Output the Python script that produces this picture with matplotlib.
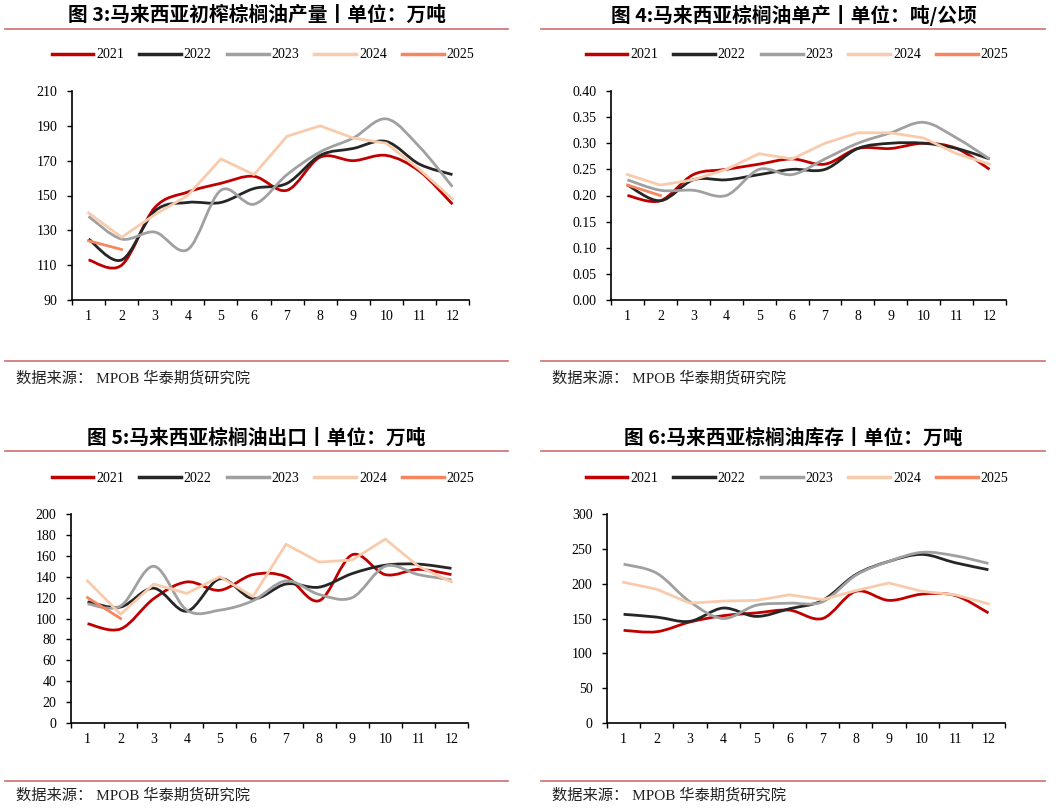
import numpy as np
import matplotlib
matplotlib.use('Agg')
import matplotlib.pyplot as plt
from matplotlib.path import Path
from matplotlib.patches import PathPatch
from matplotlib.lines import Line2D

plt.rcParams['font.family'] = ['Liberation Serif', 'Noto Sans CJK SC']

months = list(range(1, 13))
years = ['2021', '2022', '2023', '2024', '2025']
colors = ['#C00000', '#262626', '#A0A0A0', '#F8CBAD', '#F4875F']
smooth = [True, True, True, False, False]

# 图3 初榨棕榈油产量 (万吨)
prod_2021 = [113, 110, 143, 152, 157, 161, 153, 172, 170, 173, 164, 145]
prod_2022 = [125, 113, 141, 146, 146, 154, 157, 173, 177, 181, 168, 162]
prod_2023 = [138, 125, 129, 119, 153, 145, 162, 175, 183, 194, 178, 155]
prod_2024 = [140, 126, 139, 150, 171, 162, 184, 190, 183, 180, 165, 148]
prod_2025 = [124, 119]

# 图4 单产 (吨/公顷)
yield_2021 = [0.20, 0.19, 0.24, 0.25, 0.26, 0.27, 0.26, 0.29, 0.29, 0.30, 0.29, 0.25]
yield_2022 = [0.22, 0.19, 0.23, 0.23, 0.24, 0.25, 0.25, 0.29, 0.30, 0.30, 0.29, 0.27]
yield_2023 = [0.23, 0.21, 0.21, 0.20, 0.25, 0.24, 0.27, 0.30, 0.32, 0.34, 0.31, 0.27]
yield_2024 = [0.24, 0.22, 0.23, 0.25, 0.28, 0.27, 0.30, 0.32, 0.32, 0.31, 0.28, 0.26]
yield_2025 = [0.22, 0.20]

# 图5 出口 (万吨)
exp_2021 = [95, 90, 119, 135, 127, 142, 140, 117, 161, 142, 147, 142]
exp_2022 = [116, 111, 129, 107, 138, 119, 133, 130, 143, 151, 152, 148]
exp_2023 = [114, 112, 150, 108, 108, 117, 136, 123, 120, 150, 142, 137]
exp_2024 = [136, 104, 133, 124, 140, 121, 171, 154, 156, 176, 150, 135]
exp_2025 = [120, 100]

# 图6 库存 (万吨)
stock_2021 = [133, 131, 145, 154, 158, 162, 150, 189, 176, 185, 183, 158]
stock_2022 = [156, 152, 146, 165, 153, 164, 176, 213, 232, 242, 230, 220]
stock_2023 = [228, 215, 174, 150, 169, 172, 174, 212, 232, 245, 240, 229]
stock_2024 = [202, 192, 172, 175, 176, 184, 177, 190, 201, 189, 184, 171]
stock_2025 = []

panels = [
    dict(title='图 3:马来西亚初榨棕榈油产量丨单位：万吨',
         data=[prod_2021, prod_2022, prod_2023, prod_2024, prod_2025],
         ylim=(90, 210), step=20, fmt='{:.0f}'),
    dict(title='图 4:马来西亚棕榈油单产丨单位：吨/公顷',
         data=[yield_2021, yield_2022, yield_2023, yield_2024, yield_2025],
         ylim=(0, 0.40), step=0.05, fmt='{:.2f}'),
    dict(title='图 5:马来西亚棕榈油出口丨单位：万吨',
         data=[exp_2021, exp_2022, exp_2023, exp_2024, exp_2025],
         ylim=(0, 200), step=20, fmt='{:.0f}'),
    dict(title='图 6:马来西亚棕榈油库存丨单位：万吨',
         data=[stock_2021, stock_2022, stock_2023, stock_2024, stock_2025],
         ylim=(0, 300), step=50, fmt='{:.0f}'),
]


def smooth_path(x, y):
    # Excel-style smoothed line: cubic bezier through every point
    pts = np.column_stack([x, y]).astype(float)
    n = len(pts)
    verts = [pts[0]]
    codes = [Path.MOVETO]
    for i in range(n - 1):
        p0 = pts[i - 1] if i > 0 else pts[i]
        p1 = pts[i]
        p2 = pts[i + 1]
        p3 = pts[i + 2] if i + 2 < n else pts[i + 1]
        verts += [p1 + (p2 - p0) / 6, p2 - (p3 - p1) / 6, p2]
        codes += [Path.CURVE4] * 3
    return Path(verts, codes)


W, H = 1057, 808
fig = plt.figure(figsize=(W / 100, H / 100), dpi=100)

# pixel boxes: left, right, top, bottom of plot area
boxes = [(72, 469, 91, 300), (611, 1006, 91, 300),
         (71, 468, 514, 723), (607, 1005, 514, 723)]
title_pos = [(257, 15), (794, 15), (256, 438), (793, 438)]
rule_x = [(5, 508), (541, 1045), (5, 508), (541, 1045)]
rule_top = [29, 29, 451, 451]
rule_bot = [361, 361, 781, 781]
src_pos = [(16, 378), (552, 378), (16, 795), (552, 795)]
leg_pos = [(263, 55), (797, 55), (263, 478), (797, 478)]

rule_color = '#CD6E6E'

for k, p in enumerate(panels):
    l, r, t, b = boxes[k]
    ax = fig.add_axes([l / W, 1 - b / H, (r - l) / W, (b - t) / H])
    for s, vals in enumerate(p['data']):
        if len(vals) == 0:
            continue
        xs = months[:len(vals)]
        if smooth[s]:
            ax.add_patch(PathPatch(smooth_path(xs, vals), facecolor='none',
                                   edgecolor=colors[s], lw=2, zorder=2 + s))
        else:
            ax.plot(xs, vals, color=colors[s], lw=2, zorder=2 + s)
    ax.set_xlim(0.5, 12.5)
    ax.set_ylim(*p['ylim'])
    yt = np.arange(p['ylim'][0], p['ylim'][1] + p['step'] / 2, p['step'])
    ax.set_yticks(yt)
    ax.set_yticklabels([p['fmt'].format(v) for v in yt])
    ax.set_xticks(months)
    ax.set_xticklabels([str(m) for m in months])
    ax.set_xticks(np.arange(0.5, 13, 1), minor=True)
    ax.tick_params(axis='x', which='major', length=0, pad=7, labelsize=10)
    ax.tick_params(axis='x', which='minor', length=3.5, width=1, direction='out')
    ax.tick_params(axis='y', length=3.5, width=1, pad=7, labelsize=10)
    for sp in ['top', 'right']:
        ax.spines[sp].set_visible(False)
    for sp in ['left', 'bottom']:
        ax.spines[sp].set_linewidth(1.2)
    ax.set_facecolor('none')

    handles = [Line2D([], [], color=c, lw=2.5) for c in colors]
    lx, ly = leg_pos[k]
    fig.legend(handles, years, loc='center', bbox_to_anchor=(lx / W, 1 - ly / H),
               ncol=5, frameon=False, fontsize=10, handlelength=3.0,
               handletextpad=0.2, columnspacing=1.1)

    tx, ty = title_pos[k]
    fig.text(tx / W, 1 - ty / H, p['title'], ha='center', va='center',
             fontsize=14.2, fontweight='bold', family=['Noto Sans CJK SC', 'DejaVu Sans'])
    x0, x1 = rule_x[k]
    fig.add_artist(Line2D([x0 / W, x1 / W], [1 - rule_top[k] / H] * 2,
                          color=rule_color, lw=1.2))
    fig.add_artist(Line2D([x0 / W, x1 / W], [1 - rule_bot[k] / H] * 2,
                          color=rule_color, lw=1.2))
    sx, sy = src_pos[k]
    fig.text(sx / W, 1 - sy / H, '数据来源： MPOB 华泰期货研究院', ha='left', va='center',
             fontsize=11, color='#222222')

fig.savefig('out.png', dpi=100)
